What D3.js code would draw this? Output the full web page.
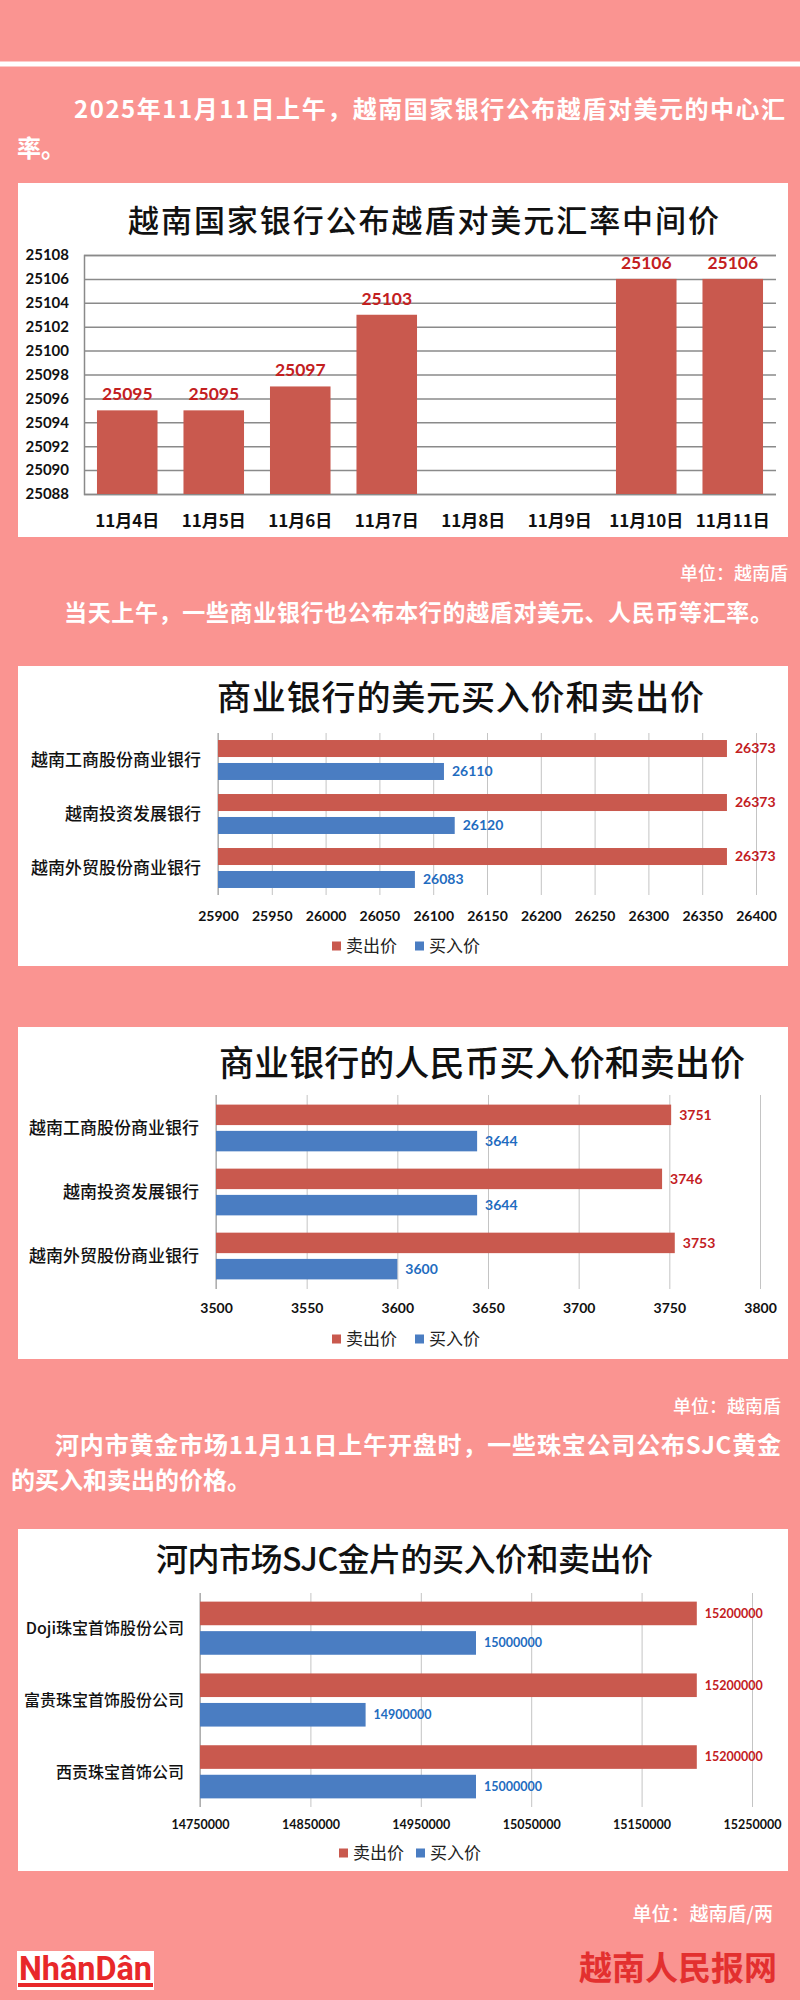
<!DOCTYPE html>
<html>
<head>
<meta charset="utf-8">
<script src="https://cdn.jsdelivr.net/npm/d3@7"></script>
<style>
  html, body { margin: 0; padding: 0; background: #FA9491; }
  svg { display: block; }
</style>
</head>
<body>
<svg id="chart" width="800" height="2000"></svg>
<script>
// ---------------- DATA ----------------
const dates = ["11月4日", "11月5日", "11月6日", "11月7日", "11月8日", "11月9日", "11月10日", "11月11日"];
const centralRates = [25095, 25095, 25097, 25103, null, null, 25106, 25106];
const rateTicks = [25088, 25090, 25092, 25094, 25096, 25098, 25100, 25102, 25104, 25106, 25108];

const banks = ["越南工商股份商业银行", "越南投资发展银行", "越南外贸股份商业银行"];
const seriesNames = ["卖出价", "买入价"];
const usdSell = [26373, 26373, 26373];
const usdBuy = [26110, 26120, 26083];
const usdTicks = [25900, 25950, 26000, 26050, 26100, 26150, 26200, 26250, 26300, 26350, 26400];

const cnySell = [3751, 3746, 3753];
const cnyBuy = [3644, 3644, 3600];
const cnyTicks = [3500, 3550, 3600, 3650, 3700, 3750, 3800];

const goldCompanies = ["Doji珠宝首饰股份公司", "富贵珠宝首饰股份公司", "西贡珠宝首饰公司"];
const goldSell = [15200000, 15200000, 15200000];
const goldBuy = [15000000, 14900000, 15000000];
const goldTicks = [14750000, 14850000, 14950000, 15050000, 15150000, 15250000];

const texts = {
  p1a: "2025年11月11日上午，越南国家银行公布越盾对美元的中心汇",
  p1b: "率。",
  t1: "越南国家银行公布越盾对美元汇率中间价",
  u1: "单位：越南盾",
  p2: "当天上午，一些商业银行也公布本行的越盾对美元、人民币等汇率。",
  t2: "商业银行的美元买入价和卖出价",
  t3: "商业银行的人民币买入价和卖出价",
  u2: "单位：越南盾",
  p3a: "河内市黄金市场11月11日上午开盘时，一些珠宝公司公布SJC黄金",
  p3b: "的买入和卖出的价格。",
  t4: "河内市场SJC金片的买入价和卖出价",
  u3: "单位：越南盾/两",
  brand: "越南人民报网"
};

// ---------------- STYLE ----------------
const PINK = "#FA9491";
const RED = "#C9594E";
const BLUE = "#4A7DC2";
const RED_TXT = "#C3201F";
const BLUE_TXT = "#1F6CC0";
const CJK = "'Noto Sans CJK SC', 'Noto Sans', sans-serif";
const NUM = "Lato, 'Open Sans', sans-serif";

const svg = d3.select("#chart");

svg.append("rect").attr("x", 0).attr("y", 0).attr("width", 800).attr("height", 2000).attr("fill", PINK);
svg.append("rect").attr("x", 0).attr("y", 61.5).attr("width", 800).attr("height", 5).attr("fill", "#ffffff");

function para(str, x, y, size, len, weight) {
  const t = svg.append("text").attr("x", x).attr("y", y)
    .attr("font-family", CJK).attr("font-size", size).attr("font-weight", weight || 700)
    .attr("fill", "#ffffff").text(str);
  if (len) t.attr("textLength", len).attr("lengthAdjust", "spacing");
  return t;
}
function unit(str, xr, y, size) {
  svg.append("text").attr("x", xr).attr("y", y).attr("text-anchor", "end")
    .attr("font-family", CJK).attr("font-size", size).attr("font-weight", 500)
    .attr("fill", "#ffffff").text(str);
}
function box(x0, y0, x1, y1) {
  svg.append("rect").attr("x", x0).attr("y", y0).attr("width", x1 - x0).attr("height", y1 - y0)
    .attr("fill", "#ffffff");
}
function title(str, x, y, size, len, weight) {
  svg.append("text").attr("x", x).attr("y", y)
    .attr("font-family", CJK).attr("font-size", size).attr("font-weight", weight || 500)
    .attr("fill", "#111").attr("textLength", len).attr("lengthAdjust", "spacing").text(str);
}

// ---------------- PARAGRAPH 1 + CHART 1 ----------------
para(texts.p1a, 74, 118, 24, 711);
para(texts.p1b, 17, 157, 24);

box(18, 183, 788, 537);
title(texts.t1, 128, 232, 31, 591);

{
  const x = d3.scaleBand().domain(dates).range([84, 776]).paddingInner(0.3).paddingOuter(0.15);
  const y = d3.scaleLinear().domain([25088, 25108]).range([494, 255]);
  const g = svg.append("g");

  const ax = g.append("g").attr("transform", "translate(84,0)")
    .call(d3.axisLeft(y).tickValues(rateTicks).tickSize(-(776 - 84)).tickPadding(15).tickFormat(d3.format("d")));
  ax.select(".domain").attr("stroke", "#8a8a8a").attr("stroke-width", 1.5);
  ax.selectAll(".tick line").attr("stroke", "#8a8a8a").attr("stroke-width", 1.5);
  ax.selectAll(".tick text").attr("font-family", NUM).attr("font-weight", 700)
    .attr("font-size", 15).attr("fill", "#111");

  const data = dates.map((d, i) => ({ d, v: centralRates[i] })).filter(o => o.v != null);
  g.selectAll("rect.bar").data(data).enter().append("rect")
    .attr("x", o => x(o.d)).attr("width", x.bandwidth())
    .attr("y", o => y(o.v)).attr("height", o => y(25088) - y(o.v))
    .attr("fill", RED);
  g.selectAll("text.val").data(data).enter().append("text")
    .attr("x", o => x(o.d) + x.bandwidth() / 2).attr("y", o => y(o.v) - 10)
    .attr("text-anchor", "middle").attr("font-family", NUM).attr("font-weight", 700)
    .attr("font-size", 17.5).attr("fill", RED_TXT).text(o => o.v);

  g.selectAll("text.cat").data(dates).enter().append("text")
    .attr("x", d => x(d) + x.bandwidth() / 2).attr("y", 527)
    .attr("text-anchor", "middle").attr("font-family", CJK).attr("font-weight", 700)
    .attr("font-size", 17).attr("fill", "#111").text(d => d);
}
unit(texts.u1, 788, 580, 18);

// ---------------- PARAGRAPH 2 ----------------
para(texts.p2, 64, 621, 23, 709);

// ---------------- HORIZONTAL BAR CHARTS ----------------
function hbar(cfg) {
  box(18, cfg.boxTop, 788, cfg.boxBot);
  title(cfg.title, cfg.titleX, cfg.titleY, cfg.titleSize, cfg.titleLen);

  const x = d3.scaleLinear().domain(cfg.domain).range([cfg.xl, cfg.xr]);
  const y = d3.scaleBand().domain(cfg.cats).range([cfg.yTop, cfg.yBot])
    .paddingInner(cfg.padIn).paddingOuter(cfg.padOut);
  const sub = d3.scaleBand().domain(seriesNames).range([0, y.bandwidth()]).paddingInner(cfg.subPad);
  const g = svg.append("g");

  const ax = g.append("g").attr("transform", `translate(0,${cfg.yBot})`)
    .call(d3.axisBottom(x).tickValues(cfg.ticks).tickSize(-(cfg.yBot - cfg.yTop)).tickPadding(0).tickFormat(d3.format("d")));
  ax.select(".domain").remove();
  ax.selectAll(".tick line").attr("stroke", "#c4c4c4").attr("stroke-width", 1);
  ax.selectAll(".tick text").attr("y", cfg.tickY - cfg.yBot).attr("dy", "0.35em")
    .attr("font-family", NUM).attr("font-weight", 700).attr("font-size", cfg.tickSize).attr("fill", "#111");
  g.append("line").attr("x1", cfg.xl).attr("x2", cfg.xl).attr("y1", cfg.yTop).attr("y2", cfg.yBot)
    .attr("stroke", "#9a9a9a").attr("stroke-width", 1);

  const rows = [];
  cfg.cats.forEach((c, i) => {
    rows.push({ c, s: seriesNames[0], v: cfg.sell[i], fill: RED, tc: RED_TXT });
    rows.push({ c, s: seriesNames[1], v: cfg.buy[i], fill: BLUE, tc: BLUE_TXT });
  });
  g.selectAll("rect.bar").data(rows).enter().append("rect")
    .attr("x", cfg.xl).attr("y", r => y(r.c) + sub(r.s))
    .attr("width", r => x(r.v) - cfg.xl).attr("height", sub.bandwidth())
    .attr("fill", r => r.fill);
  g.selectAll("text.val").data(rows).enter().append("text")
    .attr("x", r => x(r.v) + 8).attr("y", r => y(r.c) + sub(r.s) + sub.bandwidth() / 2)
    .attr("dy", "0.35em").attr("font-family", NUM).attr("font-weight", 700)
    .attr("font-size", cfg.valSize).attr("fill", r => r.tc).text(r => r.v);

  g.selectAll("text.cat").data(cfg.cats).enter().append("text")
    .attr("x", cfg.catRight).attr("y", c => y(c) + y.bandwidth() / 2).attr("dy", "0.36em")
    .attr("text-anchor", "end").attr("font-family", CJK).attr("font-weight", 500)
    .attr("font-size", cfg.catSize).attr("fill", "#111").text(c => c);

  // legend
  const lg = g.append("g").attr("transform", `translate(${cfg.legendX},${cfg.legendY})`);
  seriesNames.forEach((s, i) => {
    const ox = i * cfg.legendGap;
    lg.append("rect").attr("x", ox).attr("y", -4.5).attr("width", 9).attr("height", 9)
      .attr("fill", i === 0 ? RED : BLUE);
    lg.append("text").attr("x", ox + 14).attr("y", 0).attr("dy", "0.36em")
      .attr("font-family", CJK).attr("font-size", 17).attr("fill", "#222").text(s);
  });
}

hbar({
  boxTop: 666, boxBot: 966,
  title: texts.t2, titleX: 217, titleY: 710, titleSize: 34, titleLen: 487,
  domain: [25900, 26400], xl: 218, xr: 756, ticks: usdTicks,
  cats: banks, sell: usdSell, buy: usdBuy,
  yTop: 733, yBot: 895, padIn: 0.26, padOut: 0.13, subPad: 0.26,
  tickY: 916, tickSize: 14, valSize: 14,
  catRight: 201, catSize: 17,
  legendX: 332, legendY: 946, legendGap: 83
});

hbar({
  boxTop: 1027, boxBot: 1359,
  title: texts.t3, titleX: 219, titleY: 1076, titleSize: 35, titleLen: 526,
  domain: [3500, 3800], xl: 216, xr: 760, ticks: cnyTicks,
  cats: banks, sell: cnySell, buy: cnyBuy,
  yTop: 1095, yBot: 1289, padIn: 0.27, padOut: 0.15, subPad: 0.22,
  tickY: 1308, tickSize: 14, valSize: 14,
  catRight: 199, catSize: 17,
  legendX: 332, legendY: 1339, legendGap: 83
});

unit(texts.u2, 781, 1413, 18);

// ---------------- PARAGRAPH 3 + CHART 4 ----------------
para(texts.p3a, 55, 1454, 24, 726);
para(texts.p3b, 11, 1489, 24);

hbar({
  boxTop: 1529, boxBot: 1871,
  title: texts.t4, titleX: 156, titleY: 1571, titleSize: 32, titleLen: 497,
  domain: [14750000, 15250000], xl: 200, xr: 752, ticks: goldTicks,
  cats: goldCompanies, sell: goldSell, buy: goldBuy,
  yTop: 1593, yBot: 1807, padIn: 0.26, padOut: 0.12, subPad: 0.2,
  tickY: 1825, tickSize: 12.5, valSize: 12.5,
  catRight: 184, catSize: 16,
  legendX: 339, legendY: 1853, legendGap: 77
});

unit(texts.u3, 773, 1921, 19);

// ---------------- FOOTER ----------------
const logo = svg.append("g");
logo.append("rect").attr("x", 17).attr("y", 1951).attr("width", 137).attr("height", 39).attr("fill", "#ffffff");
logo.append("text").attr("x", 19).attr("y", 1980)
  .attr("font-family", "'Liberation Sans Narrow', 'Roboto', sans-serif").attr("font-weight", 700)
  .attr("font-size", 34).attr("fill", "#E8282A")
  .attr("textLength", 133).attr("lengthAdjust", "spacingAndGlyphs").text("NhânDân");
logo.append("rect").attr("x", 18).attr("y", 1983).attr("width", 135).attr("height", 4).attr("fill", "#E8282A");

svg.append("text").attr("x", 777).attr("y", 1980).attr("text-anchor", "end")
  .attr("font-family", CJK).attr("font-weight", 700).attr("font-size", 33)
  .attr("fill", "#E3302F").text(texts.brand);
</script>
</body>
</html>
